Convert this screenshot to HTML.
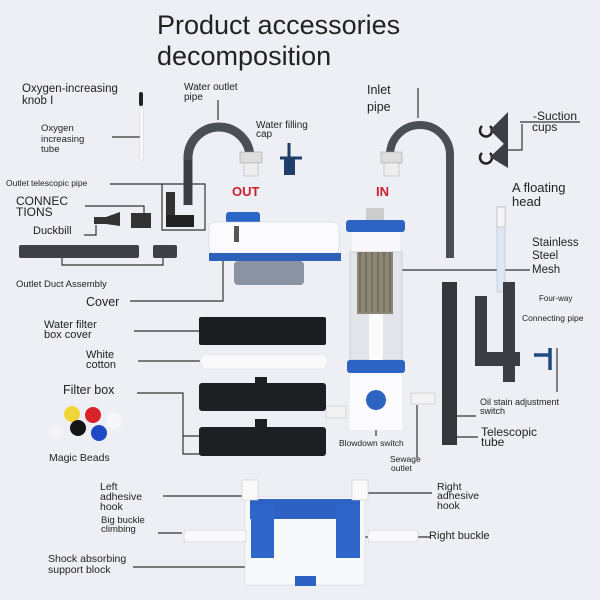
<!DOCTYPE html>
<html><head><style>
html,body{margin:0;padding:0;background:#eeeff4;}
svg{display:block;font-family:"Liberation Sans",sans-serif;}
text{fill:#222;}
</style></head><body>
<svg width="600" height="600" viewBox="0 0 600 600" xmlns="http://www.w3.org/2000/svg">
<rect width="600" height="600" fill="#eeeff4"/>
<text x="157" y="34" font-size="27" fill="#333">Product accessories</text>
<text x="157" y="65" font-size="27" fill="#333">decomposition</text>

<g font-size="11.5">
<text x="22" y="92">Oxygen-increasing</text><text x="22" y="104">knob I</text>
<text x="41" y="131" font-size="9.5">Oxygen</text><text x="41" y="142" font-size="9.5">increasing</text><text x="41" y="152" font-size="9.5">tube</text>
<text x="184" y="90" font-size="10">Water outlet</text><text x="184" y="100" font-size="10">pipe</text>
<text x="256" y="128" font-size="10">Water filling</text><text x="256" y="137" font-size="10">cap</text>
<text x="367" y="94" font-size="12.5">Inlet</text><text x="367" y="111" font-size="12.5">pipe</text>
<text x="533" y="120" font-size="12">-Suction</text><text x="532" y="131" font-size="12">cups</text>
<text x="6" y="186" font-size="8.5">Outlet telescopic pipe</text>
<text x="16" y="205" font-size="12">CONNEC</text><text x="16" y="216" font-size="12">TIONS</text>
<text x="33" y="234" font-size="11">Duckbill</text>
<text x="16" y="287" font-size="9.5">Outlet Duct Assembly</text>
<text x="512" y="192" font-size="13">A floating</text><text x="512" y="206" font-size="13">head</text>
<text x="532" y="246" font-size="11.5">Stainless</text><text x="532" y="259" font-size="11.5">Steel</text><text x="532" y="273" font-size="11.5">Mesh</text>
<text x="539" y="301" font-size="8">Four-way</text>
<text x="522" y="321" font-size="8.5">Connecting pipe</text>
<text x="86" y="306" font-size="12.5">Cover</text>
<text x="44" y="328" font-size="11">Water filter</text><text x="44" y="338" font-size="11">box cover</text>
<text x="86" y="358" font-size="11">White</text><text x="86" y="368" font-size="11">cotton</text>
<text x="63" y="394" font-size="12.5">Filter box</text>
<text x="49" y="461" font-size="10.5">Magic Beads</text>
<text x="480" y="405" font-size="9">Oil stain adjustment</text><text x="480" y="414" font-size="9">switch</text>
<text x="481" y="436" font-size="12">Telescopic</text><text x="481" y="446" font-size="12">tube</text>
<text x="339" y="446" font-size="8.5">Blowdown switch</text>
<text x="390" y="462" font-size="8.5">Sewage</text><text x="391" y="471" font-size="8.5">outlet</text>
<text x="100" y="490" font-size="10.5">Left</text><text x="100" y="500" font-size="10.5">adhesive</text><text x="100" y="510" font-size="10.5">hook</text>
<text x="101" y="523" font-size="9.5">Big buckle</text><text x="101" y="532" font-size="9.5">climbing</text>
<text x="48" y="562" font-size="10.5">Shock absorbing</text><text x="48" y="573" font-size="10.5">support block</text>
<text x="437" y="490" font-size="10.5">Right</text><text x="437" y="499" font-size="10.5">adhesive</text><text x="437" y="509" font-size="10.5">hook</text>
<text x="429" y="539" font-size="11">Right buckle</text>
<text x="232" y="196" font-size="13" font-weight="bold" fill="#c8202e" style="fill:#c8202e">OUT</text>
<text x="376" y="196" font-size="13" font-weight="bold" style="fill:#c8202e">IN</text>
</g>

<!-- leader lines -->
<g stroke="#333" stroke-width="1.2" fill="none">
<path d="M112 137H142"/>
<path d="M218 100V120"/>
<path d="M418 88V118"/>
<path d="M110 184H162V230H205V184H162"/>
<path d="M85 206H144V216"/>
<path d="M84 235H96V225"/>
<path d="M62 254V265H163V256"/>
<path d="M130 301H223V225"/>
<path d="M134 331H200"/>
<path d="M138 361H202"/>
<path d="M137 393H183V454H200M183 436H206"/>
<path d="M395 270H530"/>
<path d="M376 410V436"/>
<path d="M417 405V458"/>
<path d="M448 416H476M448 437H478"/>
<path d="M163 496H250"/>
<path d="M158 533H182"/>
<path d="M133 567H257"/>
<path d="M362 493H432"/>
<path d="M350 537H430"/>
<path d="M240 537H262"/>
<path d="M520 122H580M522 124V150H500"/>
</g>

<!-- oxygen knob & tube -->
<rect x="139" y="92" width="4" height="14" rx="2" fill="#222"/>
<rect x="140" y="108" width="3" height="52" fill="#fff" stroke="#ccc" stroke-width="0.5"/>

<!-- outlet pipe arch -->
<path d="M188 205V158A31 31 0 0 1 250 158V165" stroke="#4a4e55" stroke-width="9" fill="none"/>
<rect x="184" y="160" width="8" height="45" fill="#3a3d42"/>
<rect x="240" y="152" width="22" height="11" fill="#ddd" stroke="#999" stroke-width="0.5"/>
<rect x="244" y="163" width="14" height="13" fill="#eee" stroke="#aaa" stroke-width="0.5"/>
<!-- water filling cap -->
<path d="M289 143V158M280 158H302" stroke="#1f3d6b" stroke-width="3"/>
<rect x="284" y="158" width="11" height="17" fill="#1f3d6b"/>

<!-- inlet pipe arch -->
<path d="M390 160V155A30 30 0 0 1 450 155V258" stroke="#4a4e55" stroke-width="8" fill="none"/>
<rect x="381" y="152" width="21" height="11" fill="#ddd" stroke="#999" stroke-width="0.5"/>
<rect x="384" y="163" width="15" height="13" fill="#eee" stroke="#aaa" stroke-width="0.5"/>

<!-- suction cups -->
<path d="M482 126a6 6 0 1 0 8 0M482 153a6 6 0 1 0 8 0" stroke="#222" stroke-width="2.5" fill="none"/>
<path d="M490 130L508 112V148Z M490 157L508 140V168Z" fill="#3b3e44"/>

<!-- floating head -->
<rect x="497" y="207" width="8" height="85" fill="#dfe8f2" stroke="#b5c5d8" stroke-width="0.7"/>
<rect x="497" y="207" width="8" height="20" fill="#f4f4f4" stroke="#aaa" stroke-width="0.5"/>

<!-- connections -->
<rect x="166" y="192" width="9" height="30" fill="#333"/>
<rect x="166" y="215" width="28" height="12" fill="#222"/>
<rect x="131" y="213" width="20" height="15" fill="#333"/>
<path d="M94 217H106L120 212V226L106 224H94Z" fill="#333"/>
<rect x="19" y="245" width="120" height="13" rx="2" fill="#3e4147"/>
<rect x="153" y="245" width="24" height="13" rx="2" fill="#3e4147"/>

<!-- cover -->
<rect x="226" y="212" width="34" height="12" rx="3" fill="#2a66c7"/>
<rect x="209" y="222" width="130" height="32" rx="6" fill="#fbfbfd" stroke="#ccd" stroke-width="0.5"/>
<rect x="234" y="226" width="5" height="16" fill="#555"/>
<rect x="209" y="253" width="132" height="8" fill="#2d62b8"/>
<rect x="234" y="261" width="70" height="24" rx="4" fill="#8a93a2"/>

<!-- column -->
<rect x="346" y="220" width="59" height="12" rx="3" fill="#2d64c4"/>
<rect x="366" y="208" width="18" height="12" fill="#ccc"/>
<rect x="352" y="232" width="48" height="20" fill="#f8f8fa"/>
<rect x="350" y="252" width="52" height="108" fill="#e2e5ea" stroke="#c5c9d2" stroke-width="0.8"/>
<rect x="357" y="252" width="36" height="62" fill="#8d8575"/>
<path d="M360 252V312M366 252V312M372 252V312M378 252V312M384 252V312M390 252V312" stroke="#5f5a50" stroke-width="1"/>
<rect x="369" y="314" width="14" height="50" fill="#fbfbfb"/>
<rect x="347" y="360" width="58" height="13" rx="3" fill="#2d64c4"/>
<rect x="350" y="373" width="52" height="57" fill="#fbfbfd"/>
<circle cx="376" cy="400" r="10" fill="#2d64c4"/>
<rect x="326" y="406" width="20" height="12" fill="#f2f2f2" stroke="#bbb" stroke-width="0.5"/>
<rect x="411" y="393" width="24" height="11" fill="#f2f2f2" stroke="#bbb" stroke-width="0.5"/>

<!-- filter boxes -->
<rect x="199" y="317" width="127" height="28" rx="2" fill="#1b1c1f"/>
<rect x="200" y="355" width="128" height="14" rx="7" fill="#fafafa" stroke="#dde" stroke-width="0.6"/>
<rect x="199" y="383" width="127" height="28" rx="3" fill="#1e1f23"/>
<rect x="255" y="377" width="12" height="8" fill="#1e1f23"/>
<rect x="199" y="427" width="127" height="29" rx="3" fill="#1e1f23"/>
<rect x="255" y="419" width="12" height="9" fill="#1e1f23"/>

<!-- beads -->
<circle cx="72" cy="414" r="8" fill="#f0d63a"/>
<circle cx="93" cy="415" r="8" fill="#d8232a"/>
<circle cx="114" cy="421" r="8" fill="#f7f7f9"/>
<circle cx="56" cy="432" r="8" fill="#f4f4f6"/>
<circle cx="78" cy="428" r="8" fill="#151515"/>
<circle cx="99" cy="433" r="8" fill="#1f49c4"/>

<!-- right pipes -->
<rect x="442" y="282" width="15" height="163" fill="#33363b"/>
<rect x="475" y="296" width="12" height="70" fill="#3a3d43"/>
<rect x="503" y="282" width="12" height="100" fill="#3a3d43"/>
<rect x="475" y="352" width="45" height="14" fill="#3a3d43"/>
<path d="M534 355H550V370M550 348V368" stroke="#1e4a80" stroke-width="3.5" fill="none"/>
<path d="M557 348V392" stroke="#333" stroke-width="1.2"/>

<!-- base -->
<rect x="245" y="497" width="120" height="88" fill="#f7f8fa" stroke="#d8d8de" stroke-width="0.6"/>
<rect x="250" y="499" width="110" height="20" fill="#2d62c4"/>
<rect x="251" y="505" width="23" height="53" fill="#2e66c9"/>
<rect x="336" y="505" width="24" height="53" fill="#2e66c9"/>
<rect x="295" y="576" width="21" height="10" fill="#2d62c4"/>
<rect x="242" y="480" width="16" height="20" fill="#fafafa" stroke="#ccc" stroke-width="0.6"/>
<rect x="352" y="480" width="16" height="20" fill="#fafafa" stroke="#ccc" stroke-width="0.6"/>
<rect x="184" y="530" width="62" height="12" rx="3" fill="#fafafa" stroke="#ccc" stroke-width="0.6"/>
<rect x="368" y="530" width="50" height="12" rx="3" fill="#fafafa" stroke="#ccc" stroke-width="0.6"/>
</svg>
</body></html>
